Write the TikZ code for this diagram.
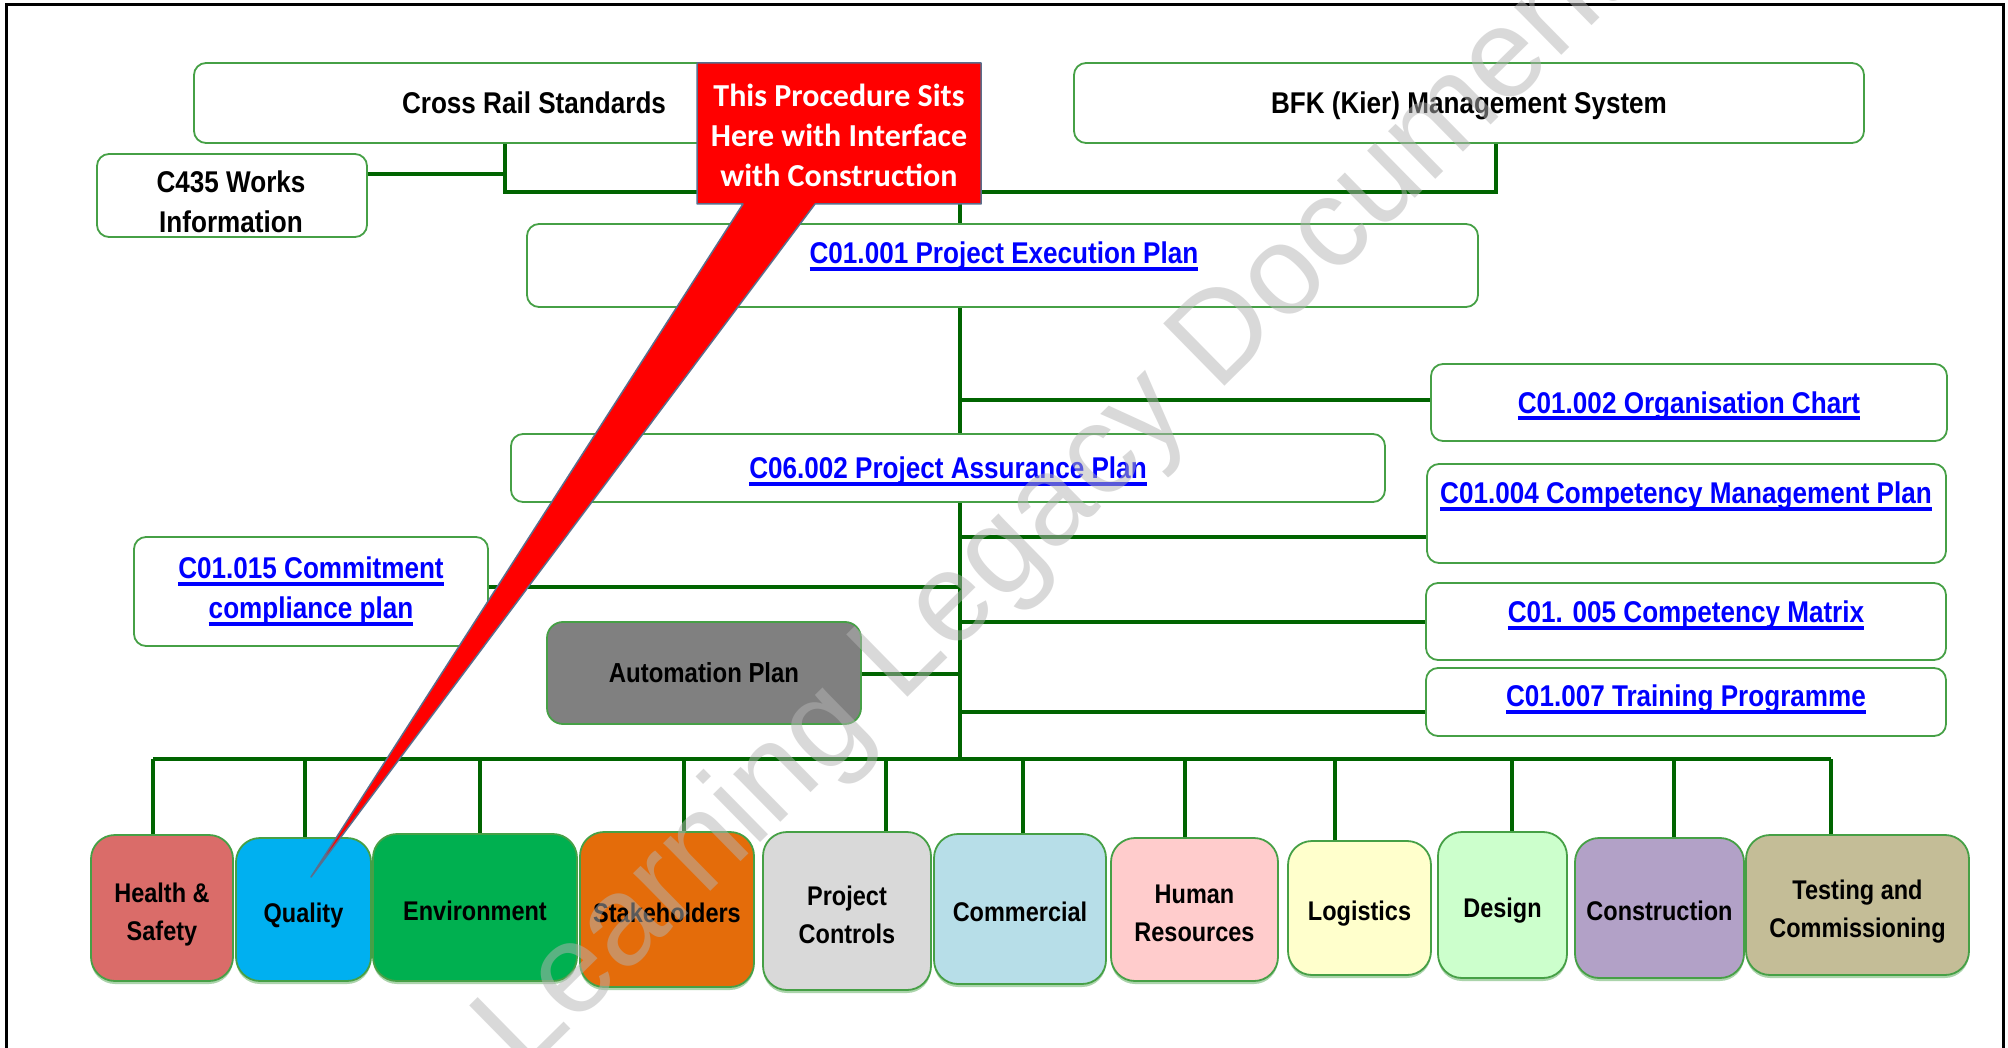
\documentclass[tikz,border=0pt]{standalone}
\usepackage{fontspec}
\setmainfont{Liberation Sans}
\newfontfamily\labfont{Liberation Sans}[FakeStretch=0.87]
\newfontfamily\callfont{Carlito}
\usetikzlibrary{shadows}

\definecolor{boxgreen}{RGB}{70,160,70}
\definecolor{wiregreen}{RGB}{0,100,0}
\definecolor{linkblue}{RGB}{0,0,255}
\definecolor{calloutred}{RGB}{255,0,0}
\definecolor{calloutedge}{RGB}{90,110,140}
\definecolor{hsred}{RGB}{218,108,105}
\definecolor{qblue}{RGB}{0,176,240}
\definecolor{envgreen}{RGB}{0,176,80}
\definecolor{stkorange}{RGB}{228,108,10}
\definecolor{pcgray}{RGB}{217,217,217}
\definecolor{comblue}{RGB}{183,222,232}
\definecolor{hrpink}{RGB}{255,204,204}
\definecolor{logyellow}{RGB}{255,255,204}
\definecolor{desgreen}{RGB}{204,255,204}
\definecolor{conpurple}{RGB}{178,161,199}
\definecolor{tctan}{RGB}{196,189,151}
\definecolor{autogray}{RGB}{128,128,128}
\definecolor{wmgray}{RGB}{180,180,180}

% underlined hyperlink-style text with a fixed rule below the baseline
\newsavebox\lnkbox
\newcommand\lnk[1]{\sbox\lnkbox{#1}\rlap{\rule[-7pt]{\wd\lnkbox}{4pt}}\usebox\lnkbox}

\begin{document}
\begin{tikzpicture}[x=1pt, y=-1pt,
  box/.style={draw=boxgreen, line width=1.8pt, rounded corners=12pt, fill=white, inner sep=0pt},
  lab/.style={font=\labfont\bfseries\fontsize{30}{40}\selectfont, text=black, align=center, inner sep=0pt},
  link/.style={lab, text=linkblue},
  one/.style={text height=21.5pt, text depth=0pt},
  dept/.style={draw=boxgreen, line width=1.8pt, rounded corners=24pt, inner sep=0pt,
    align=center, text=black, font=\labfont\bfseries\fontsize{27}{38}\selectfont,
    drop shadow={shadow xshift=0pt, shadow yshift=-3pt, fill=boxgreen, opacity=0.45}},
  deptone/.style={text height=25.3pt, text depth=0pt},
  depttwo/.style={text height=64.3pt, text depth=0pt},
  wire/.style={draw=wiregreen, line width=4pt},
]
\useasboundingbox (0,0) rectangle (2008,1048);
\fill[white] (0,0) rectangle (2008,1048);

% page frame
\draw[line width=3pt] (6,1060) -- (6,5) -- (2003,5) -- (2003,1060);

% upper tier
\node[box, minimum width=680pt, minimum height=80pt, lab, one] (cross) at (534,103) {Cross Rail Standards};
\node[box, minimum width=790pt, minimum height=80pt, lab, one] (bfk) at (1469,103) {BFK (Kier) Management System};
\node[box, minimum width=270pt, minimum height=83pt] (c435) at (232,195.5) {};
\node[lab] (c435-t) at (231,202) {C435 Works\\Information};
\node[box, minimum width=951pt, minimum height=83pt] (pep) at (1002.5,265.5) {};
\node[link, one] (pep-t) at (1004,253) {\lnk{C01.001 Project Execution Plan}};

% plans hanging off the spine
\node[box, minimum width=516pt, minimum height=77pt, link, one] (org) at (1689,402.5) {\lnk{C01.002 Organisation Chart}};
\node[box, minimum width=874pt, minimum height=68pt, link, one] (pap) at (948,468) {\lnk{C06.002 Project Assurance Plan}};
\node[box, minimum width=519pt, minimum height=99pt] (cmp) at (1686.5,513.5) {};
\node[link, one] (cmp-t) at (1686,493) {\lnk{C01.004 Competency Management Plan}};
\node[box, minimum width=354pt, minimum height=109pt, link] (ccp) at (311,591.5) {\lnk{C01.015 Commitment}\\\lnk{compliance plan}};
\node[box, minimum width=520pt, minimum height=77pt] (cm) at (1686,621.5) {};
\node[link, one] (cm-t) at (1686,612) {\lnk{C01. 005 Competency Matrix}};
\node[box, minimum width=520pt, minimum height=68pt] (tp) at (1686,702) {};
\node[link, one] (tp-t) at (1686,696) {\lnk{C01.007 Training Programme}};
\node[box, fill=autogray, rounded corners=16pt, minimum width=314pt, minimum height=102pt, lab,
  font=\labfont\bfseries\fontsize{27.5}{30}\selectfont, text height=19.7pt, text depth=0pt] (auto) at (704,673) {Automation Plan};

% departments
\node[dept, depttwo, fill=hsred, minimum width=142pt, minimum height=146pt] (hs) at (162,908) {Health \&\\Safety};
\node[dept, deptone, fill=qblue, minimum width=135pt, minimum height=143pt] (q) at (303.5,909.5) {Quality};
\node[dept, deptone, fill=envgreen, minimum width=204pt, minimum height=147pt] (env) at (475,907.5) {Environment};
\node[dept, deptone, fill=stkorange, minimum width=174pt, minimum height=155pt] (stk) at (667,909.5) {Stakeholders};
\node[dept, depttwo, fill=pcgray, minimum width=168pt, minimum height=158pt] (pc) at (847,911) {Project\\Controls};
\node[dept, deptone, fill=comblue, minimum width=172pt, minimum height=150pt] (com) at (1020,909) {Commercial};
\node[dept, depttwo, fill=hrpink, minimum width=167pt, minimum height=143pt] (hr) at (1194.5,909.5) {Human\\Resources};
\node[dept, deptone, fill=logyellow, minimum width=143pt, minimum height=134pt] (log) at (1359.5,908) {Logistics};
\node[dept, deptone, fill=desgreen, minimum width=129pt, minimum height=146pt] (des) at (1502.5,905) {Design};
\node[dept, deptone, fill=conpurple, minimum width=169pt, minimum height=140pt] (con) at (1659.5,908) {Construction};
\node[dept, depttwo, fill=tctan, minimum width=223pt, minimum height=140pt] (tc) at (1857.5,905) {Testing and\\Commissioning};

% junction points
\coordinate (jL) at (505,192);
\coordinate (jR) at (1496,192);
\coordinate (jM) at (960,192);
\coordinate (jC) at (505,174);
\coordinate (bOrg) at (960,400);
\coordinate (bCmp) at (960,537);
\coordinate (bCcp) at (960,587);
\coordinate (bCm) at (960,622);
\coordinate (bAuto) at (960,674);
\coordinate (bTp) at (960,712);
\coordinate (busM) at (960,759);
\coordinate (busL) at (153,759);
\coordinate (busR) at (1831,759);

% connectors
\draw[wire] (cross.south -| jL) -- (jL) -- (jR) -- (bfk.south -| jR);
\draw[wire] (c435.east |- jC) -- (jC);
\draw[wire] (jM) -- (pep.north -| jM);
\draw[wire] (pep.south -| jM) -- (pap.north -| jM);
\draw[wire] (bOrg) -- (org.west |- bOrg);
\draw[wire] (pap.south -| jM) -- (busM);
\draw[wire] (bCmp) -- (cmp.west |- bCmp);
\draw[wire] (ccp.east |- bCcp) -- (bCcp);
\draw[wire] (bCm) -- (cm.west |- bCm);
\draw[wire] (auto.east |- bAuto) -- (bAuto);
\draw[wire] (bTp) -- (tp.west |- bTp);
\draw[wire] (busL) -- (busR);
\foreach \n/\x in {hs/153, q/305, env/480, stk/684, pc/886, com/1023, hr/1185, log/1335, des/1512, con/1674, tc/1831}{
  \coordinate (d-\n) at (\x,759);
  \draw[wire, line width=3.5pt] (d-\n) -- (\n.north -| d-\n);
}

% callout
\path[fill=calloutred, draw=calloutedge, line width=1.5pt, line join=round]
  (697,63) -- (981,63) -- (981,204) -- (815,204) -- (311,877) -- (743,204) -- (697,204) -- cycle;
\node[font=\callfont\bfseries\fontsize{32}{40}\selectfont, text=white, align=center, inner sep=0pt] (callout) at (839,135)
  {This Procedure Sits\\Here with Interface\\with Construction};

% watermark
\node[rotate=44.5, anchor=base west, inner sep=0pt, text=wmgray, text opacity=0.5,
  font=\fontsize{127}{127}\selectfont] (wm) at (523,1076) {Learning Legacy Document};
\end{tikzpicture}
\end{document}
